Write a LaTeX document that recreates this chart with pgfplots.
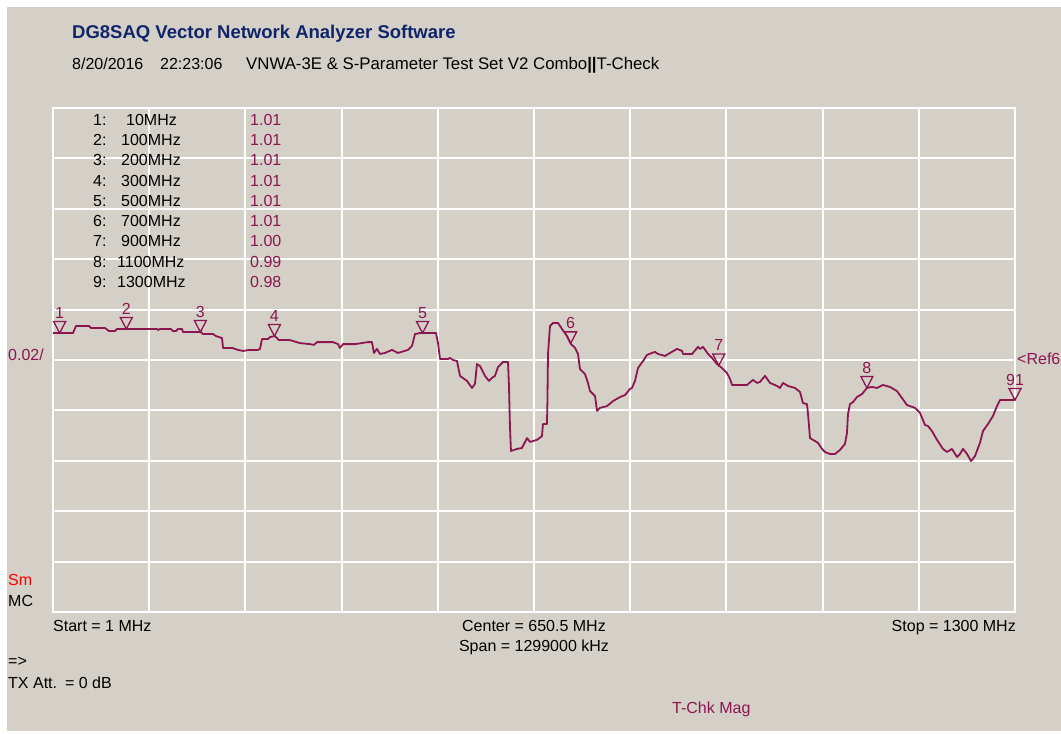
\documentclass[border=0pt]{standalone}
\usepackage{fontspec}
\setmainfont{Liberation Sans}
\usepackage{pgfplots}
\pgfplotsset{compat=1.18}
\usepackage{pgfplotstable}
\definecolor{vgrey}{RGB}{212,208,200}
\definecolor{vnwa}{RGB}{139,22,80}
\definecolor{vblue}{RGB}{16,36,106}
\pgfdeclareplotmark{vnwatri}{%
  \pgfpathmoveto{\pgfqpoint{0pt}{0pt}}%
  \pgfpathlineto{\pgfqpoint{-6pt}{11.5pt}}%
  \pgfpathlineto{\pgfqpoint{6pt}{11.5pt}}%
  \pgfpathclose
  \pgfusepathqstroke}
\pgfplotstableread{
f v
1 1.0107
28.0 1.0107
32.1 1.0135
49.6 1.0135
52.3 1.0127
71.2 1.0127
76.6 1.0115
84.7 1.0115
87.4 1.0123
141.4 1.0123
142.8 1.0119
145.5 1.0123
160.3 1.0123
163.0 1.0115
167.1 1.0115
169.8 1.0123
175.2 1.0123
176.5 1.0111
200.8 1.0111
203.5 1.0103
217.0 1.0103
221.1 1.0095
229.2 1.0087
230.6 1.0048
242.7 1.0048
250.8 1.0040
257.6 1.0036
265.7 1.0040
277.8 1.0040
280.5 1.0044
283.2 1.0083
291.3 1.0083
294.0 1.0091
300.8 1.0095
306.2 1.0079
321.0 1.0079
334.5 1.0067
348.0 1.0063
353.4 1.0060
357.5 1.0071
379.1 1.0071
385.8 1.0063
388.5 1.0048
392.6 1.0063
408.8 1.0063
426.3 1.0071
431.7 1.0071
434.4 1.0028
438.5 1.0044
442.5 1.0024
449.3 1.0028
458.7 1.0040
466.8 1.0028
480.4 1.0040
485.8 1.0056
489.8 1.0103
496.6 1.0107
518.2 1.0107
520.9 1.0067
523.6 1.0004
534.4 1.0004
537.1 1.0008
541.1 1.0000
546.5 0.9996
550.6 0.9937
560.0 0.9917
566.8 0.9889
570.8 0.9905
573.5 0.9984
577.6 0.9976
584.3 0.9937
589.7 0.9917
593.8 0.9929
597.8 0.9937
601.9 0.9972
608.6 0.9992
615.4 0.9992
616.7 0.9897
618.1 0.9730
619.4 0.9639
627.5 0.9647
634.3 0.9651
641.0 0.9690
645.1 0.9675
654.5 0.9683
661.3 0.9698
662.6 0.9746
668.0 0.9746
668.7 0.9845
669.4 1.0024
672.1 1.0135
676.2 1.0147
682.9 1.0147
688.3 1.0123
695.1 1.0095
700.5 1.0063
705.9 1.0048
709.9 1.0024
712.6 0.9964
719.4 0.9944
723.4 0.9909
726.1 0.9877
732.9 0.9857
735.6 0.9798
739.6 0.9810
749.1 0.9817
757.2 0.9837
766.6 0.9853
773.4 0.9861
780.1 0.9885
782.8 0.9889
786.9 0.9917
790.9 0.9968
797.7 0.9996
803.1 1.0020
809.8 1.0028
813.9 1.0032
818.0 1.0024
827.4 1.0016
834.2 1.0028
843.6 1.0044
850.4 1.0036
851.7 1.0024
863.9 1.0024
872.0 1.0052
874.7 1.0044
878.7 1.0052
885.5 1.0024
890.9 1.0008
897.6 0.9984
904.4 0.9968
911.1 0.9948
915.2 0.9925
917.9 0.9901
938.1 0.9901
946.2 0.9921
951.6 0.9909
955.7 0.9913
962.4 0.9937
969.2 0.9909
978.6 0.9897
982.7 0.9889
986.7 0.9909
993.5 0.9897
1002.9 0.9889
1009.7 0.9873
1013.7 0.9829
1019.1 0.9825
1020.5 0.9786
1023.2 0.9690
1027.2 0.9683
1034.0 0.9671
1039.4 0.9647
1043.4 0.9635
1050.2 0.9627
1056.9 0.9627
1063.7 0.9643
1070.4 0.9667
1073.1 0.9710
1074.5 0.9786
1077.2 0.9825
1081.2 0.9833
1086.6 0.9853
1093.4 0.9865
1100.1 0.9889
1106.9 0.9893
1113.6 0.9889
1121.7 0.9901
1131.2 0.9893
1140.6 0.9877
1147.4 0.9849
1154.2 0.9821
1165.0 0.9810
1171.7 0.9790
1178.5 0.9742
1182.5 0.9738
1187.9 0.9718
1194.7 0.9683
1202.8 0.9647
1208.2 0.9635
1214.9 0.9647
1221.7 0.9615
1225.7 0.9627
1229.8 0.9647
1235.2 0.9627
1240.6 0.9599
1246.0 0.9619
1252.7 0.9671
1256.8 0.9718
1263.5 0.9746
1270.3 0.9778
1275.7 0.9817
1279.7 0.9841
1300 0.9841
}\trace
\newcommand{\vf}{\fontsize{16}{19}\selectfont}
\begin{document}
\begin{tikzpicture}
\useasboundingbox (0pt,0pt) rectangle (1061pt,734pt);
\fill[white] (0pt,0pt) rectangle (1061pt,734pt);
\fill[vgrey] (7pt,3pt) rectangle (1061pt,727pt);
\begin{axis}[
  at={(53pt,122pt)}, anchor=south west,
  scale only axis, width=962pt, height=504pt,
  xmin=1, xmax=1300, ymin=0.90, ymax=1.10,
  xtick={1,130.9,260.8,390.7,520.6,650.5,780.4,910.3,1040.2,1170.1,1300},
  ytick={0.90,0.92,0.94,0.96,0.98,1.00,1.02,1.04,1.06,1.08,1.10},
  xticklabels={}, yticklabels={},
  major tick length=0pt,
  grid=major,
  major grid style={draw=white, line width=2pt},
  axis line style={draw=white, line width=2pt},
  clip=false,
]
\addplot[vnwa, line width=1.8pt, line join=round] table[x=f, y=v] {\trace};
\addplot[only marks, mark=vnwatri, mark options={draw=vnwa, line width=1.3pt},
  point meta=explicit symbolic,
  nodes near coords,
  every node near coord/.append style={anchor=south, yshift=14pt, inner sep=0pt, text=vnwa, font=\vf}]
  coordinates {
  (10,1.0107) [1]
  (100,1.0123) [2]
  (200,1.0111) [3]
  (300,1.0095) [4]
  (500,1.0107) [5]
  (700,1.0066) [6]
  (900,0.9978) [7]
  (1100,0.9889) [8]
  (1300,0.9841) [91]
  };
\end{axis}
% header
\node[anchor=base west, inner sep=0pt, text=vblue, font=\fontsize{18.5}{21}\selectfont\bfseries] at (72pt,695pt) {DG8SAQ Vector Network Analyzer Software};
\node[anchor=base west, inner sep=0pt, font=\vf] at (72pt,664pt) {8/20/2016};
\node[anchor=base west, inner sep=0pt, font=\vf] at (160pt,664pt) {22:23:06};
\node[anchor=base west, inner sep=0pt, font=\fontsize{16.8}{19}\selectfont] at (246pt,664pt) {VNWA-3E \& S-Parameter Test Set V2 Combo\textbf{||}T-Check};
% marker table
\foreach \n/\fr/\xx/\val/\b in {1/10/126/1.01/126, 2/100/121/1.01/146, 3/200/121/1.01/166, 4/300/121/1.01/187, 5/500/121/1.01/207, 6/700/121/1.01/227, 7/900/121/1.00/247, 8/1100/117/0.99/268, 9/1300/117/0.98/288}{
  \node[anchor=base west, inner sep=0pt, font=\vf] at ({93pt},{(734-\b)*1pt}) {\n:};
  \node[anchor=base west, inner sep=0pt, font=\vf] at ({\xx*1pt},{(734-\b)*1pt}) {\fr MHz};
  \node[anchor=base west, inner sep=0pt, font=\vf, text=vnwa] at ({250pt},{(734-\b)*1pt}) {\val};
}
\node[anchor=base west, inner sep=0pt, font=\vf, text=vnwa] at (8pt,373pt) {0.02/};
\node[anchor=base west, inner sep=0pt, font=\vf, text=vnwa] at (1017pt,369pt) {<Ref6};
\node[anchor=base west, inner sep=0pt, font=\vf, text=red] at (8pt,148pt) {Sm};
\node[anchor=base west, inner sep=0pt, font=\vf] at (8pt,127pt) {MC};
\node[anchor=base west, inner sep=0pt, font=\vf] at (53pt,102pt) {Start = 1 MHz};
\node[anchor=base, inner sep=0pt, font=\vf] at (534pt,102pt) {Center = 650.5 MHz};
\node[anchor=base, inner sep=0pt, font=\vf] at (534pt,82pt) {Span = 1299000 kHz};
\node[anchor=base east, inner sep=0pt, font=\vf] at (1016pt,102pt) {Stop = 1300 MHz};
\node[anchor=base west, inner sep=0pt, font=\vf] at (8pt,67pt) {=>};
\node[anchor=base west, inner sep=0pt, font=\vf] at (8pt,45pt) {TX Att.\hspace{8pt}= 0 dB};
\node[anchor=base west, inner sep=0pt, font=\vf, text=vnwa] at (672pt,20pt) {T-Chk Mag};
\end{tikzpicture}
\end{document}
